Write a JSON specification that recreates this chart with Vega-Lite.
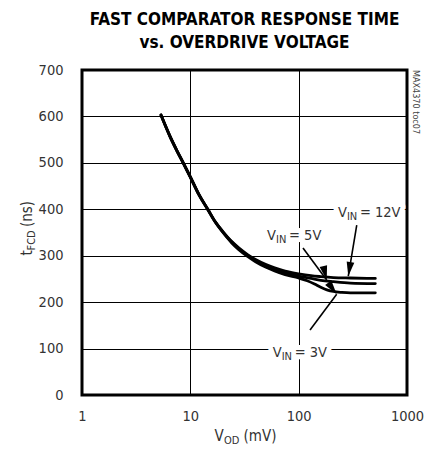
{
  "$schema": "https://vega.github.io/schema/vega-lite/v6.json",
  "autosize": "none",
  "width": 325,
  "height": 325,
  "padding": {"left": 82, "top": 70, "right": 27, "bottom": 62},
  "background": "white",
  "title": {
    "text": ["FAST COMPARATOR RESPONSE TIME", "vs. OVERDRIVE VOLTAGE"],
    "font": "DejaVu Sans Condensed, Liberation Sans Narrow, Liberation Sans, sans-serif",
    "fontSize": 17,
    "fontWeight": "bold",
    "color": "black",
    "anchor": "middle",
    "frame": "group",
    "lineHeight": 23,
    "offset": 10
  },
  "datasets": {
    "curves": [
      {"series": "12V", "x": 5.36, "y": 603}, {"series": "12V", "x": 6.5, "y": 557}, {"series": "12V", "x": 7.5, "y": 527}, {"series": "12V", "x": 8.61, "y": 500}, {"series": "12V", "x": 10, "y": 470}, {"series": "12V", "x": 12, "y": 432}, {"series": "12V", "x": 14.5, "y": 400}, {"series": "12V", "x": 17, "y": 373}, {"series": "12V", "x": 20, "y": 352}, {"series": "12V", "x": 24, "y": 331}, {"series": "12V", "x": 28, "y": 317}, {"series": "12V", "x": 34, "y": 302}, {"series": "12V", "x": 40, "y": 292}, {"series": "12V", "x": 50, "y": 281}, {"series": "12V", "x": 60, "y": 274}, {"series": "12V", "x": 75, "y": 267}, {"series": "12V", "x": 100, "y": 261}, {"series": "12V", "x": 130, "y": 257}, {"series": "12V", "x": 160, "y": 255}, {"series": "12V", "x": 209, "y": 253}, {"series": "12V", "x": 300, "y": 252}, {"series": "12V", "x": 510, "y": 251},
      {"series": "5V", "x": 5.36, "y": 603}, {"series": "5V", "x": 6.5, "y": 557}, {"series": "5V", "x": 7.5, "y": 527}, {"series": "5V", "x": 8.61, "y": 500}, {"series": "5V", "x": 10, "y": 470}, {"series": "5V", "x": 12, "y": 432}, {"series": "5V", "x": 14.5, "y": 400}, {"series": "5V", "x": 17, "y": 373}, {"series": "5V", "x": 20, "y": 351}, {"series": "5V", "x": 24, "y": 330}, {"series": "5V", "x": 28, "y": 315}, {"series": "5V", "x": 34, "y": 300}, {"series": "5V", "x": 40, "y": 289}, {"series": "5V", "x": 50, "y": 277}, {"series": "5V", "x": 60, "y": 270}, {"series": "5V", "x": 75, "y": 263}, {"series": "5V", "x": 100, "y": 256}, {"series": "5V", "x": 130, "y": 251}, {"series": "5V", "x": 160, "y": 247}, {"series": "5V", "x": 209, "y": 244}, {"series": "5V", "x": 300, "y": 241}, {"series": "5V", "x": 510, "y": 240},
      {"series": "3V", "x": 5.36, "y": 603}, {"series": "3V", "x": 6.5, "y": 556}, {"series": "3V", "x": 7.5, "y": 526}, {"series": "3V", "x": 8.61, "y": 499}, {"series": "3V", "x": 10, "y": 469}, {"series": "3V", "x": 12, "y": 431}, {"series": "3V", "x": 14.5, "y": 399}, {"series": "3V", "x": 17, "y": 372}, {"series": "3V", "x": 20, "y": 350}, {"series": "3V", "x": 24, "y": 328}, {"series": "3V", "x": 28, "y": 313}, {"series": "3V", "x": 34, "y": 298}, {"series": "3V", "x": 40, "y": 287}, {"series": "3V", "x": 50, "y": 275}, {"series": "3V", "x": 60, "y": 267}, {"series": "3V", "x": 75, "y": 259}, {"series": "3V", "x": 100, "y": 252}, {"series": "3V", "x": 120, "y": 246}, {"series": "3V", "x": 140, "y": 239}, {"series": "3V", "x": 160, "y": 232}, {"series": "3V", "x": 185, "y": 226}, {"series": "3V", "x": 209, "y": 223}, {"series": "3V", "x": 250, "y": 221}, {"series": "3V", "x": 300, "y": 220}, {"series": "3V", "x": 510, "y": 220}
    ],
    "labels": [
      {"label": "12V", "x": 279, "y": 384, "rest": "= 12V"},
      {"label": "5V", "x": 61.8, "y": 334, "rest": "= 5V"},
      {"label": "3V", "x": 69.7, "y": 82.5, "rest": "= 3V"}
    ],
    "arrows": [
      {"label": "12V", "x": 343.6, "y": 366, "x2": 287, "y2": 256},
      {"label": "5V", "x": 109.6, "y": 316.6, "x2": 181.5, "y2": 247.7},
      {"label": "3V", "x": 127.3, "y": 140, "x2": 224.4, "y2": 217}
    ],
    "note": [{"x": 1211, "y": 700, "text": "MAX4370 toc07"}]
  },
  "layer": [
    {
      "data": {"name": "curves"},
      "mark": {"type": "line", "color": "black", "strokeWidth": 2.8, "interpolate": "monotone", "strokeCap": "round"},
      "encoding": {
        "x": {"field": "x", "type": "quantitative", "scale": {"type": "log", "domain": [1, 1000], "nice": false},
          "axis": {"orient": "bottom", "values": [1, 10, 100, 1000], "format": "d", "grid": true, "labelPadding": 14, "labelFlush": false, "zindex": 0,
            "title": "V", "titleX": 132, "titleY": 45, "titleAlign": "left", "titleBaseline": "alphabetic", "titleAngle": 0, "titleAnchor": null}},
        "y": {"field": "y", "type": "quantitative", "scale": {"domain": [0, 700], "nice": false},
          "axis": {"orient": "left", "values": [0, 100, 200, 300, 400, 500, 600, 700], "grid": true, "labelPadding": 19, "zindex": 0,
            "title": "t", "titleX": -51, "titleY": 185, "titleAngle": -90, "titleAlign": "left", "titleBaseline": "alphabetic", "titleAnchor": null}},
        "detail": {"field": "series", "type": "nominal"}
      }
    },
    {
      "data": {"name": "curves"},
      "mark": {"type": "point", "opacity": 0},
      "encoding": {
        "x": {"field": "x", "type": "quantitative",
          "axis": {"orient": "bottom", "labels": false, "grid": false, "title": "OD", "titleFontSize": 11, "titleX": 141.5, "titleY": 48.5, "titleAlign": "left", "titleBaseline": "alphabetic", "titleAngle": 0, "titleAnchor": null}},
        "y": {"field": "y", "type": "quantitative",
          "axis": {"orient": "left", "labels": false, "grid": false, "title": "FCD", "titleFontSize": 11, "titleX": -47.5, "titleY": 180, "titleAngle": -90, "titleAlign": "left", "titleBaseline": "alphabetic", "titleAnchor": null}}
      }
    },
    {
      "data": {"name": "curves"},
      "mark": {"type": "point", "opacity": 0},
      "encoding": {
        "x": {"field": "x", "type": "quantitative",
          "axis": {"orient": "bottom", "labels": false, "grid": false, "title": "(mV)", "titleX": 161, "titleY": 45, "titleAlign": "left", "titleBaseline": "alphabetic", "titleAngle": 0, "titleAnchor": null}},
        "y": {"field": "y", "type": "quantitative",
          "axis": {"orient": "left", "labels": false, "grid": false, "title": "(ns)", "titleX": -51, "titleY": 156.5, "titleAngle": -90, "titleAlign": "left", "titleBaseline": "alphabetic", "titleAnchor": null}}
      }
    },
    {
      "data": {"name": "labels"},
      "mark": {"type": "text", "text": "V", "align": "right", "baseline": "alphabetic", "fontSize": 14.5, "fill": "white", "stroke": "white", "strokeWidth": 10, "strokeJoin": "round"},
      "encoding": {"x": {"field": "x", "type": "quantitative", "axis": null}, "y": {"field": "y", "type": "quantitative", "axis": null}}
    },
    {
      "data": {"name": "labels"},
      "mark": {"type": "text", "text": "IN", "align": "left", "baseline": "alphabetic", "fontSize": 11, "dy": 3, "fill": "white", "stroke": "white", "strokeWidth": 10, "strokeJoin": "round"},
      "encoding": {"x": {"field": "x", "type": "quantitative", "axis": null}, "y": {"field": "y", "type": "quantitative", "axis": null}}
    },
    {
      "data": {"name": "labels"},
      "mark": {"type": "text", "align": "left", "baseline": "alphabetic", "fontSize": 14.5, "dx": 13, "fill": "white", "stroke": "white", "strokeWidth": 10, "strokeJoin": "round"},
      "encoding": {"x": {"field": "x", "type": "quantitative", "axis": null}, "y": {"field": "y", "type": "quantitative", "axis": null}, "text": {"field": "rest"}}
    },
    {
      "data": {"name": "labels"},
      "mark": {"type": "text", "text": "V", "align": "right", "baseline": "alphabetic", "fontSize": 14.5, "color": "#333"},
      "encoding": {"x": {"field": "x", "type": "quantitative", "axis": null}, "y": {"field": "y", "type": "quantitative", "axis": null}}
    },
    {
      "data": {"name": "labels"},
      "mark": {"type": "text", "text": "IN", "align": "left", "baseline": "alphabetic", "fontSize": 11, "dy": 3, "color": "#333"},
      "encoding": {"x": {"field": "x", "type": "quantitative", "axis": null}, "y": {"field": "y", "type": "quantitative", "axis": null}}
    },
    {
      "data": {"name": "labels"},
      "mark": {"type": "text", "align": "left", "baseline": "alphabetic", "fontSize": 14.5, "dx": 13, "color": "#333"},
      "encoding": {"x": {"field": "x", "type": "quantitative", "axis": null}, "y": {"field": "y", "type": "quantitative", "axis": null}, "text": {"field": "rest"}}
    },
    {
      "data": {"name": "arrows"},
      "mark": {"type": "rule", "color": "black", "strokeWidth": 1.6},
      "encoding": {
        "x": {"field": "x", "type": "quantitative", "axis": null}, "y": {"field": "y", "type": "quantitative", "axis": null},
        "x2": {"field": "x2"}, "y2": {"field": "y2"}
      }
    },
    {
      "data": {"name": "arrows"},
      "mark": {"type": "point", "shape": "M0,0L0.65,2.4L-0.65,2.4Z", "filled": true, "color": "black", "opacity": 1, "size": 140},
      "encoding": {
        "x": {"field": "x2", "type": "quantitative", "axis": null}, "y": {"field": "y2", "type": "quantitative", "axis": null},
        "angle": {"field": "label", "type": "nominal", "scale": {"domain": ["12V", "5V", "3V"], "range": [189, 143.5, 37]}, "legend": null}
      }
    },
    {
      "data": {"name": "note"},
      "mark": {"type": "text", "angle": 90, "align": "left", "baseline": "middle", "fontSize": 9, "color": "#444"},
      "encoding": {"x": {"field": "x", "type": "quantitative", "axis": null}, "y": {"field": "y", "type": "quantitative", "axis": null}, "text": {"field": "text"}}
    }
  ],
  "resolve": {"axis": {"x": "independent", "y": "independent"}},
  "config": {
    "font": "DejaVu Sans Condensed, Liberation Sans Narrow, Liberation Sans, sans-serif",
    "view": {"stroke": "black", "strokeWidth": 3},
    "axis": {
      "labelFont": "DejaVu Sans Condensed, Liberation Sans Narrow, Liberation Sans, sans-serif", "labelFontSize": 14.5, "labelColor": "#333",
      "titleFont": "DejaVu Sans Condensed, Liberation Sans Narrow, Liberation Sans, sans-serif", "titleFontSize": 15, "titleColor": "#333", "titleFontWeight": "normal",
      "domain": false, "ticks": false, "gridColor": "black", "gridWidth": 1, "gridOpacity": 1
    },
    "text": {"font": "DejaVu Sans Condensed, Liberation Sans Narrow, Liberation Sans, sans-serif"}
  }
}
